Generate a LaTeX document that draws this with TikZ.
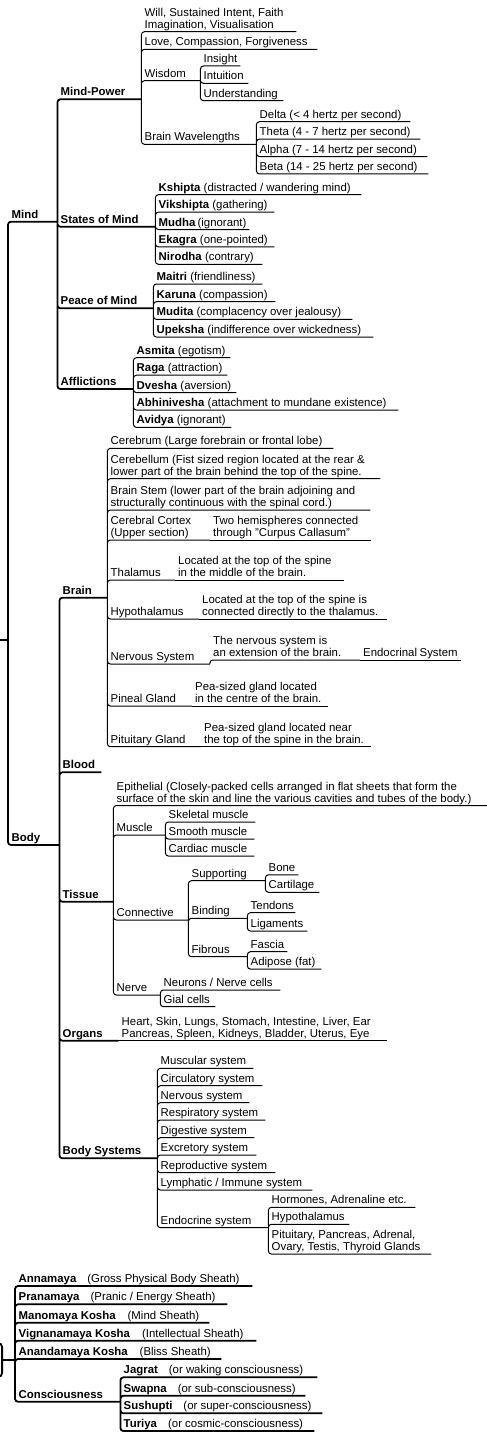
\documentclass[tikz,border=0pt]{standalone}
\usepackage{fontspec}
\setmainfont{Liberation Sans}
\newcommand\twoline[2]{\vbox{\hbox{#1}\hbox{#2}}}
\tikzset{
  topic/.style={anchor=south west, inner xsep=3.5pt, inner ysep=0pt, text depth=3.3pt,
    font=\fontsize{11.4}{12}\selectfont},
  uw/.style={execute at begin node={\hbox to \dimexpr#1pt-7pt\relax\bgroup},
    execute at end node={\hfil\egroup}},
  link/.style={rounded corners=3pt, line width=1pt},
  mainlink/.style={rounded corners=3pt, line width=1.8pt},
  rootbox/.style={draw, line width=1.8pt, rounded corners=4pt, minimum width=40pt, minimum height=34pt},
}
\begin{document}
\begin{tikzpicture}[x=1pt, y=-1pt]
	\useasboundingbox (0,0) rectangle (487,1437);
	% upper tree: mind and body
	\coordinate (root1) at (0,640);
	\node[topic,uw=49] (mind) at (8,221.7) {\textbf{Mind}};
	\node[topic,uw=51] (body) at (8,845) {\textbf{Body}};
	% mind
	\node[topic,uw=84] (mindpower) at (57,99.3) {\textbf{Mind-Power}};
	\node[topic,uw=98] (states) at (57,226.7) {\textbf{States of Mind}};
	\node[topic,uw=96] (peace) at (57,308.3) {\textbf{Peace of Mind}};
	\node[topic,uw=76] (afflictions) at (57,389) {\textbf{Afflictions}};
	\node[topic,uw=155] (will) at (141,31.7) {\twoline{Will, Sustained Intent, Faith}{Imagination, Visualisation}};
	\node[topic,uw=176] (love) at (141,49.3) {Love, Compassion, Forgiveness};
	\node[topic,uw=59] (wisdom) at (141,80.7) {Wisdom};
	\node[topic,uw=115] (waves) at (141,144.3) {Brain Wavelengths};
	\node[topic,uw=40] (insight) at (200,66) {Insight};
	\node[topic,uw=48] (intuition) at (200,83.3) {Intuition};
	\node[topic,uw=83] (understanding) at (200,100.7) {Understanding};
	\node[topic,uw=154] (delta) at (256,121.7) {Delta (< 4 hertz per second)};
	\node[topic,uw=164] (theta) at (256,139.1) {Theta (4 - 7 hertz per second)};
	\node[topic,uw=171] (alpha) at (256,156.5) {Alpha (7 - 14 hertz per second)};
	\node[topic,uw=172] (beta) at (256,173.9) {Beta (14 - 25 hertz per second)};
	\node[topic,uw=206] (kshipta) at (155,194.7) {\textbf{Kshipta} (distracted / wandering mind)};
	\node[topic,uw=119] (vikshipta) at (155,212.1) {\textbf{Vikshipta} (gathering)};
	\node[topic,uw=94] (mudha) at (155,229.5) {\textbf{Mudha} (ignorant)};
	\node[topic,uw=119] (ekagra) at (155,246.9) {\textbf{Ekagra} (one-pointed)};
	\node[topic,uw=107] (nirodha) at (155,264.3) {\textbf{Nirodha} (contrary)};
	\node[topic,uw=109] (maitri) at (153,284) {\textbf{Maitri} (friendliness)};
	\node[topic,uw=122] (karuna) at (153,301.7) {\textbf{Karuna} (compassion)};
	\node[topic,uw=199] (mudita) at (153,319.4) {\textbf{Mudita} (complacency over jealousy)};
	\node[topic,uw=220] (upeksha) at (153,337) {\textbf{Upeksha} (indifference over wickedness)};
	\node[topic,uw=97] (asmita) at (133,357.7) {\textbf{Asmita} (egotism)};
	\node[topic,uw=94] (raga) at (133,375.2) {\textbf{Raga} (attraction)};
	\node[topic,uw=103] (dvesha) at (133,392.6) {\textbf{Dvesha} (aversion)};
	\node[topic,uw=265] (abhinivesha) at (133,410) {\textbf{Abhinivesha} (attachment to mundane existence)};
	\node[topic,uw=98] (avidya) at (133,427.4) {\textbf{Avidya} (ignorant)};
	% body
	\node[topic,uw=48] (brain) at (59,597.7) {\textbf{Brain}};
	\node[topic,uw=42] (blood) at (59,772.3) {\textbf{Blood}};
	\node[topic,uw=54] (tissue) at (59,901.7) {\textbf{Tissue}};
	\node[topic,uw=59] (organs) at (59,1040.7) {\textbf{Organs}};
	\node[topic,uw=98] (systems) at (59,1158.3) {\textbf{Body Systems}};
	\node[topic,uw=226] (cerebrum) at (107,448.3) {Cerebrum (Large forebrain or frontal lobe)};
	\node[topic,uw=273] (cerebellum) at (107,478.7) {\twoline{Cerebellum (Fist sized region located at the rear \&}{lower part of the brain behind the top of the spine.}};
	\node[topic,uw=263] (brainstem) at (107,510) {\twoline{Brain Stem (lower part of the brain adjoining and}{structurally continuous with the spinal cord.)}};
	\node[topic,uw=102.5] (cortex) at (107,540) {\twoline{Cerebral Cortex}{(Upper section)}};
	\node[topic,uw=161.5] (hemispheres) at (209.5,540) {\twoline{Two hemispheres connected}{through "Curpus Callasum"}};
	\node[topic,uw=67.5] (thalamus) at (107,580) {Thalamus};
	\node[topic,uw=169.5] (thalamusinfo) at (174.5,580) {\twoline{Located at the top of the spine}{in the middle of the brain.}};
	\node[topic,uw=91.5] (hypothalamus) at (107,619) {Hypothalamus};
	\node[topic,uw=188.5] (hypoinfo) at (198.5,619) {\twoline{Located at the top of the spine is}{connected directly to the thalamus.}};
	\node[topic,uw=102.5] (nervous) at (107,664) {Nervous System};
	\node[topic,uw=150] (nervousinfo) at (209.5,660) {\twoline{The nervous system is}{an extension of the brain.}};
	\node[topic,uw=101.5] (endocrinal) at (359.5,660) {Endocrinal System};
	\node[topic,uw=84.5] (pineal) at (107,706) {Pineal Gland};
	\node[topic,uw=136.5] (pinealinfo) at (191.5,706) {\twoline{Pea-sized gland located}{in the centre of the brain.}};
	\node[topic,uw=93.5] (pituitary) at (107,746.7) {Pituitary Gland};
	\node[topic,uw=170.5] (pituitaryinfo) at (200.5,746.7) {\twoline{Pea-sized gland located near}{the top of the spine in the brain.}};
	\node[topic,uw=374] (epithelial) at (113,805.5) {\twoline{Epithelial (Closely-packed cells arranged in flat sheets that form the}{surface of the skin and line the various cavities and tubes of the body.)}};
	\node[topic,uw=52] (muscle) at (113,835) {Muscle};
	\node[topic,uw=75] (connective) at (113,920) {Connective};
	\node[topic,uw=47] (nerve) at (113,995) {Nerve};
	\node[topic,uw=90] (skeletal) at (165,822) {Skeletal muscle};
	\node[topic,uw=89] (smooth) at (165,839) {Smooth muscle};
	\node[topic,uw=89] (cardiac) at (165,856) {Cardiac muscle};
	\node[topic,uw=77] (supporting) at (188,880.7) {Supporting};
	\node[topic,uw=59] (binding) at (188,918.3) {Binding};
	\node[topic,uw=59] (fibrous) at (188,956.7) {Fibrous};
	\node[topic,uw=33] (bone) at (265,874.8) {Bone};
	\node[topic,uw=54] (cartilage) at (265,892.3) {Cartilage};
	\node[topic,uw=48] (tendons) at (247,912.7) {Tendons};
	\node[topic,uw=60] (ligaments) at (247,931) {Ligaments};
	\node[topic,uw=40] (fascia) at (247,951.7) {Fascia};
	\node[topic,uw=74] (adipose) at (247,969) {Adipose (fat)};
	\node[topic,uw=120] (neurons) at (160,990) {Neurons / Nerve cells};
	\node[topic,uw=55] (gial) at (160,1006.7) {Gial cells};
	\node[topic,uw=269] (organlist) at (118,1040.7) {\twoline{Heart, Skin, Lungs, Stomach, Intestine, Liver, Ear}{Pancreas, Spleen, Kidneys, Bladder, Uterus, Eye}};
	\node[topic,uw=96] (muscular) at (157,1068.3) {Muscular system};
	\node[topic,uw=105] (circulatory) at (157,1085.7) {Circulatory system};
	\node[topic,uw=92] (nervoussys) at (157,1102.7) {Nervous system};
	\node[topic,uw=108] (respiratory) at (157,1120) {Respiratory system};
	\node[topic,uw=97] (digestive) at (157,1137.7) {Digestive system};
	\node[topic,uw=99] (excretory) at (157,1155) {Excretory system};
	\node[topic,uw=118] (reproductive) at (157,1172.7) {Reproductive system};
	\node[topic,uw=155] (lymphatic) at (157,1190) {Lymphatic / Immune system};
	\node[topic,uw=111] (endocrine) at (157,1227.7) {Endocrine system};
	\node[topic,uw=147] (hormones) at (268,1207.3) {Hormones, Adrenaline etc.};
	\node[topic,uw=81] (hypothalamus2) at (268,1224.3) {Hypothalamus};
	\node[topic,uw=163] (glands) at (268,1254) {\twoline{Pituitary, Pancreas, Adrenal,}{Ovary, Testis, Thyroid Glands}};
	% lower tree: sheaths
	\node[rootbox,anchor=east] (root2) at (3,1360) {};
	\node[topic,uw=237] (annamaya) at (15,1286) {\textbf{Annamaya}\hspace{11pt}(Gross Physical Body Sheath)};
	\node[topic,uw=212] (pranamaya) at (15,1304.3) {\textbf{Pranamaya}\hspace{11pt}(Pranic / Energy Sheath)};
	\node[topic,uw=194] (manomaya) at (15,1322.7) {\textbf{Manomaya Kosha}\hspace{12pt}(Mind Sheath)};
	\node[topic,uw=241] (vignanamaya) at (15,1340.7) {\textbf{Vignanamaya Kosha}\hspace{12pt}(Intellectual Sheath)};
	\node[topic,uw=206] (anandamaya) at (15,1359) {\textbf{Anandamaya Kosha}\hspace{12pt}(Bliss Sheath)};
	\node[topic,uw=105] (consciousness) at (15,1401.7) {\textbf{Consciousness}};
	\node[topic,uw=197] (jagrat) at (120,1377.3) {\textbf{Jagrat}\hspace{11pt}(or waking consciousness)};
	\node[topic,uw=185] (swapna) at (120,1395.7) {\textbf{Swapna}\hspace{11pt}(or sub-consciousness)};
	\node[topic,uw=202] (sushupti) at (120,1413.3) {\textbf{Sushupti}\hspace{11pt}(or super-consciousness)};
	\node[topic,uw=194] (turiya) at (120,1431) {\textbf{Turiya}\hspace{11pt}(or cosmic-consciousness)};
	% connectors
	\draw[mainlink] (root1) -- (root1 -| mind.south west);
	\draw[mainlink] (root1 -| mind.south west) |- (mind.south east)
		(root1 -| body.south west) |- (body.south east);
	\draw[mainlink] (mind.south east) |- (mindpower.south east) (mind.south east) |- (states.south east)
		(mind.south east) |- (peace.south east) (mind.south east) |- (afflictions.south east);
	\draw[link] (mindpower.south east) |- (will.south east) (mindpower.south east) |- (love.south east)
		(mindpower.south east) |- (wisdom.south east) (mindpower.south east) |- (waves.south east);
	\draw[link] (wisdom.south east) |- (insight.south east) (wisdom.south east) |- (intuition.south east)
		(wisdom.south east) |- (understanding.south east);
	\draw[link] (waves.south east) |- (delta.south east) (waves.south east) |- (theta.south east)
		(waves.south east) |- (alpha.south east) (waves.south east) |- (beta.south east);
	\draw[link] (states.south east) |- (kshipta.south east) (states.south east) |- (vikshipta.south east)
		(states.south east) |- (mudha.south east) (states.south east) |- (ekagra.south east)
		(states.south east) |- (nirodha.south east);
	\draw[link] (peace.south east) |- (maitri.south east) (peace.south east) |- (karuna.south east)
		(peace.south east) |- (mudita.south east) (peace.south east) |- (upeksha.south east);
	\draw[link] (afflictions.south east) |- (asmita.south east) (afflictions.south east) |- (raga.south east)
		(afflictions.south east) |- (dvesha.south east) (afflictions.south east) |- (abhinivesha.south east)
		(afflictions.south east) |- (avidya.south east);
	\draw[mainlink] (body.south east) |- (brain.south east) (body.south east) |- (blood.south east)
		(body.south east) |- (tissue.south east) (body.south east) |- (organs.south east)
		(body.south east) |- (systems.south east);
	\draw[link] (brain.south east) |- (cerebrum.south east) (brain.south east) |- (cerebellum.south east)
		(brain.south east) |- (brainstem.south east) (brain.south east) |- (cortex.south east)
		(brain.south east) |- (thalamus.south east) (brain.south east) |- (hypothalamus.south east)
		(brain.south east) |- (nervous.south east) (brain.south east) |- (pineal.south east)
		(brain.south east) |- (pituitary.south east);
	\draw[link] (cortex.south east) -- (hemispheres.south east);
	\draw[link] (thalamus.south east) -- (thalamusinfo.south east);
	\draw[link] (hypothalamus.south east) -- (hypoinfo.south east);
	\draw[link] (nervous.south east) |- (nervousinfo.south east);
	\draw[link] (nervousinfo.south east) -- (endocrinal.south east);
	\draw[link] (pineal.south east) -- (pinealinfo.south east);
	\draw[link] (pituitary.south east) -- (pituitaryinfo.south east);
	\draw[link] (tissue.south east) |- (epithelial.south east) (tissue.south east) |- (muscle.south east)
		(tissue.south east) |- (connective.south east) (tissue.south east) |- (nerve.south east);
	\draw[link] (muscle.south east) |- (skeletal.south east) (muscle.south east) |- (smooth.south east)
		(muscle.south east) |- (cardiac.south east);
	\draw[link] (connective.south east) |- (supporting.south east) (connective.south east) |- (binding.south east)
		(connective.south east) |- (fibrous.south east);
	\draw[link] (supporting.south east) |- (bone.south east) (supporting.south east) |- (cartilage.south east);
	\draw[link] (binding.south east) |- (tendons.south east) (binding.south east) |- (ligaments.south east);
	\draw[link] (fibrous.south east) |- (fascia.south east) (fibrous.south east) |- (adipose.south east);
	\draw[link] (nerve.south east) |- (neurons.south east) (nerve.south east) |- (gial.south east);
	\draw[link] (organs.south east) -- (organlist.south east);
	\draw[link] (systems.south east) |- (muscular.south east) (systems.south east) |- (circulatory.south east)
		(systems.south east) |- (nervoussys.south east) (systems.south east) |- (respiratory.south east)
		(systems.south east) |- (digestive.south east) (systems.south east) |- (excretory.south east)
		(systems.south east) |- (reproductive.south east) (systems.south east) |- (lymphatic.south east)
		(systems.south east) |- (endocrine.south east);
	\draw[link] (endocrine.south east) |- (hormones.south east) (endocrine.south east) |- (hypothalamus2.south east)
		(endocrine.south east) |- (glands.south east);
	\draw[mainlink] (root2.east) -- (root2.east -| annamaya.south west);
	\draw[mainlink] (root2.east -| annamaya.south west) |- (annamaya.south east)
		(root2.east -| annamaya.south west) |- (pranamaya.south east)
		(root2.east -| annamaya.south west) |- (manomaya.south east)
		(root2.east -| annamaya.south west) |- (vignanamaya.south east)
		(root2.east -| annamaya.south west) |- (anandamaya.south east)
		(root2.east -| annamaya.south west) |- (consciousness.south east);
	\draw[mainlink] (consciousness.south east) |- (jagrat.south east) (consciousness.south east) |- (swapna.south east)
		(consciousness.south east) |- (sushupti.south east) (consciousness.south east) |- (turiya.south east);
\end{tikzpicture}
\end{document}
